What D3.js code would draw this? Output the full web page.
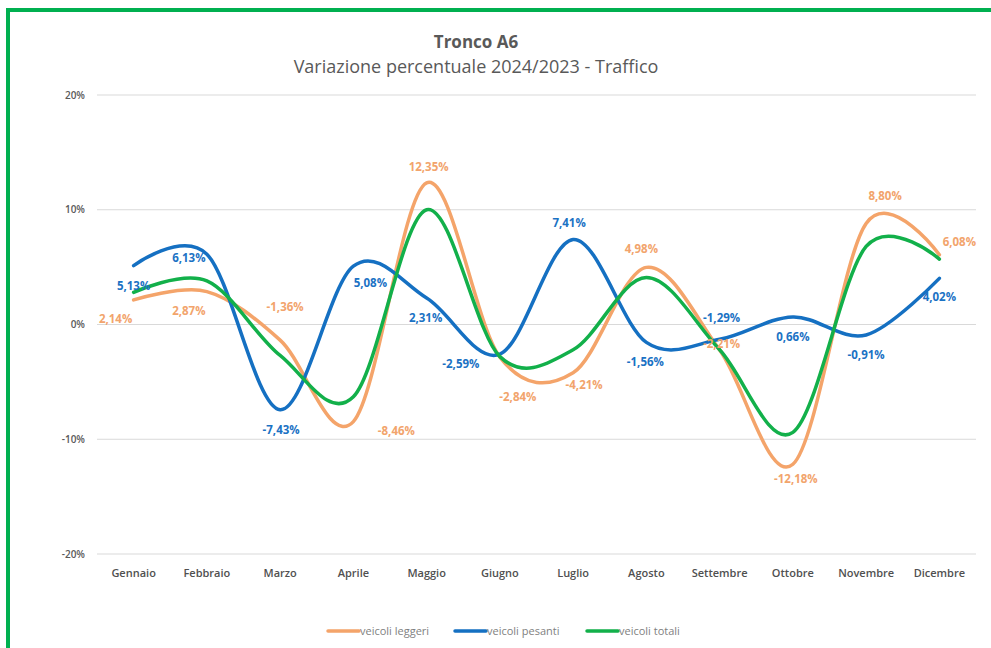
<!DOCTYPE html>
<html>
<head>
<meta charset="utf-8">
<style>
    body { margin: 0; background: #fff; }
    svg text { font-family: 'Open Sans', sans-serif; }
    .grid line { stroke: #d9d9d9; stroke-width: 1px; }
    .ytick { fill: #595959; font-size: 10px; font-weight: 600; }
    .xtick { fill: #505050; font-size: 11px; font-weight: 600; }
    .dlabel { font-size: 11.5px; font-weight: 700; }
    .legend text { fill: #7f7f7f; font-size: 11px; }
</style>
<script src="https://cdn.jsdelivr.net/npm/d3@7"></script>
</head>
<body>
<div id="chart"></div>
<script>
    // chart data
    var months = ["Gennaio", "Febbraio", "Marzo", "Aprile", "Maggio", "Giugno",
        "Luglio", "Agosto", "Settembre", "Ottobre", "Novembre", "Dicembre"];
    var leggeri = [2.14, 2.87, -1.36, -8.46, 12.35, -2.84, -4.21, 4.98, -2.21, -12.18, 8.80, 6.08];
    var pesanti = [5.13, 6.13, -7.43, 5.08, 2.31, -2.59, 7.41, -1.56, -1.29, 0.66, -0.91, 4.02];
    var totali = [2.8, 3.8, -2.7, -6.3, 10.0, -2.8, -2.2, 4.1, -2.2, -9.4, 6.8, 5.7];
    var yTicks = [20, 10, 0, -10, -20];
    var seriesNames = ["veicoli leggeri", "veicoli pesanti", "veicoli totali"];

    // label placement (offset from the point, px)
    var leggeriOff = [[-18, 19], [-18, 19], [5, -33], [43, 9], [2, -16], [18, 40],
        [11, 12], [-5, -18], [2, -6], [3, 15], [19, -28], [20, -13]];
    var pesantiOff = [[0, 20], [-18, 4], [1, 20], [17, 17], [-1, 20], [-39, 10],
        [-4, -16], [-1, 20], [2, -21], [0, 20], [0, 20], [0, 19]];

    var colors = ["#f4a46a", "#1570c2", "#12b04a"];
    var labelColors = ["#f2a46c", "#1b72c4"];

    var W = 991, H = 648;

    var svg = d3.select("#chart").append("svg")
        .attr("width", W)
        .attr("height", H);

    // frame
    svg.append("rect")
        .attr("x", 8).attr("y", 10)
        .attr("width", W + 20).attr("height", H + 20)
        .attr("fill", "none")
        .attr("stroke", "#00b050")
        .attr("stroke-width", 4);

    var x = d3.scalePoint().domain(months).range([97, 976]).padding(0.5);
    var y = d3.scaleLinear().domain([-20, 20]).range([554, 95]);

    // gridlines
    svg.append("g").attr("class", "grid")
        .selectAll("line")
        .data(yTicks)
        .enter().append("line")
        .attr("x1", 97).attr("x2", 976)
        .attr("y1", function (d) { return y(d); })
        .attr("y2", function (d) { return y(d); });

    svg.append("g")
        .selectAll("text")
        .data(yTicks)
        .enter().append("text")
        .attr("class", "ytick")
        .attr("x", 85)
        .attr("y", function (d) { return y(d); })
        .attr("dy", "0.35em")
        .attr("text-anchor", "end")
        .text(function (d) { return d + "%"; });

    svg.append("g")
        .selectAll("text")
        .data(months)
        .enter().append("text")
        .attr("class", "xtick")
        .attr("x", function (d) { return x(d); })
        .attr("y", 573)
        .attr("dy", "0.35em")
        .attr("text-anchor", "middle")
        .text(function (d) { return d; });

    // title
    svg.append("text")
        .attr("x", 476).attr("y", 42).attr("dy", "0.35em")
        .attr("text-anchor", "middle")
        .style("font-size", "17px").style("font-weight", "700").style("fill", "#595959")
        .text("Tronco A6");
    svg.append("text")
        .attr("x", 476).attr("y", 67).attr("dy", "0.35em")
        .attr("text-anchor", "middle")
        .style("font-size", "18px").style("fill", "#595959")
        .text("Variazione percentuale 2024/2023 - Traffico");

    // smoothed lines (Excel style)
    var line = d3.line()
        .x(function (d, i) { return x(months[i]); })
        .y(function (d) { return y(d); })
        .curve(d3.curveCardinal.tension(0));

    [leggeri, pesanti, totali].forEach(function (s, k) {
        svg.append("path")
            .attr("d", line(s))
            .attr("fill", "none")
            .attr("stroke", colors[k])
            .attr("stroke-width", 3.5)
            .attr("stroke-linecap", "round");
    });

    // data labels
    function fmt(v) { return v.toFixed(2).replace(".", ",") + "%"; }

    [[leggeri, leggeriOff], [pesanti, pesantiOff]].forEach(function (p, k) {
        svg.append("g")
            .selectAll("text")
            .data(p[0])
            .enter().append("text")
            .attr("class", "dlabel")
            .attr("x", function (d, i) { return x(months[i]) + p[1][i][0]; })
            .attr("y", function (d, i) { return y(d) + p[1][i][1]; })
            .attr("dy", "0.35em")
            .attr("text-anchor", "middle")
            .style("fill", labelColors[k])
            .text(fmt);
    });

    // legend
    var legendX = [328, 455, 587];
    var lg = svg.append("g").attr("class", "legend");
    seriesNames.forEach(function (n, k) {
        lg.append("line")
            .attr("x1", legendX[k]).attr("x2", legendX[k] + 31)
            .attr("y1", 631).attr("y2", 631)
            .attr("stroke", colors[k])
            .attr("stroke-width", 3.5)
            .attr("stroke-linecap", "round");
        lg.append("text")
            .attr("x", legendX[k] + 32)
            .attr("y", 631).attr("dy", "0.35em")
            .text(n);
    });
</script>
</body>
</html>
